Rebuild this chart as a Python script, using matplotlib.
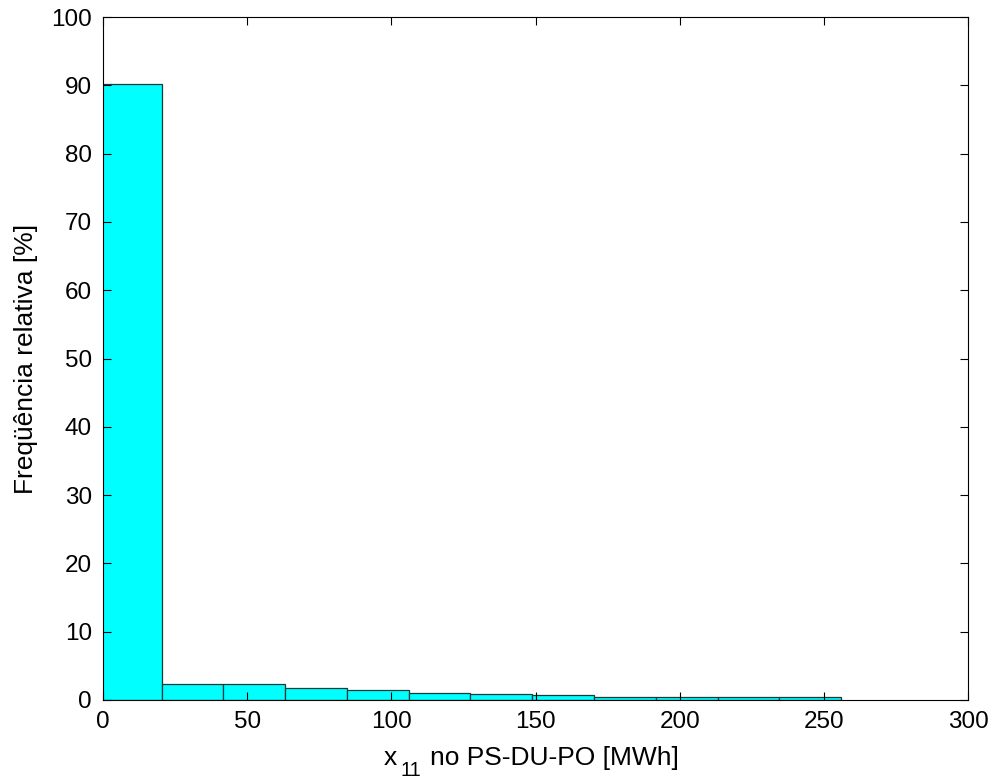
import matplotlib
matplotlib.use("Agg")
import matplotlib.pyplot as plt
import numpy as np

plt.rcParams['font.family'] = ['Liberation Sans', 'DejaVu Sans']

bin_edges = np.linspace(-1.06, 255.96, 13)
freq = [90.2, 2.3, 2.3, 1.8, 1.5, 1.0, 0.95, 0.7, 0.4, 0.4, 0.4, 0.4]
xticks = [0, 50, 100, 150, 200, 250, 300]
yticks = [0, 10, 20, 30, 40, 50, 60, 70, 80, 90, 100]

W, H = 998, 784
fig = plt.figure(figsize=(W / 100, H / 100), dpi=100)
ax = fig.add_axes([103 / W, 84 / H, 865 / W, 683 / H])
ax.bar(bin_edges[:-1], freq, width=np.diff(bin_edges), align='edge',
       color='#00ffff', edgecolor='#1a3a3a', linewidth=0.9)
ax.set_xlim(0, 300)
ax.set_ylim(0, 100)
ax.set_xticks(xticks)
ax.set_yticks(yticks)
ax.tick_params(direction='in', top=True, right=True, labelsize=17.5, length=6, width=0.8, pad=8)
for s in ax.spines.values():
    s.set_linewidth(0.8)
ax.set_ylabel('Freqüência relativa [%]', fontsize=19)
ax.yaxis.set_label_coords((38.5 - 103) / 865, 0.5)

# x label with lowered subscript (MATLAB style)
fs = 19
base_y = (H - 765) / H
fig.text(384 / W, base_y, 'x', fontsize=fs, va='baseline', ha='left')
fig.text(400 / W, (H - 776) / H, '11', fontsize=14.5, va='baseline', ha='left')
fig.text(430 / W, base_y, 'no PS-DU-PO [MWh]', fontsize=fs, va='baseline', ha='left')

fig.savefig('out.png', dpi=100)
